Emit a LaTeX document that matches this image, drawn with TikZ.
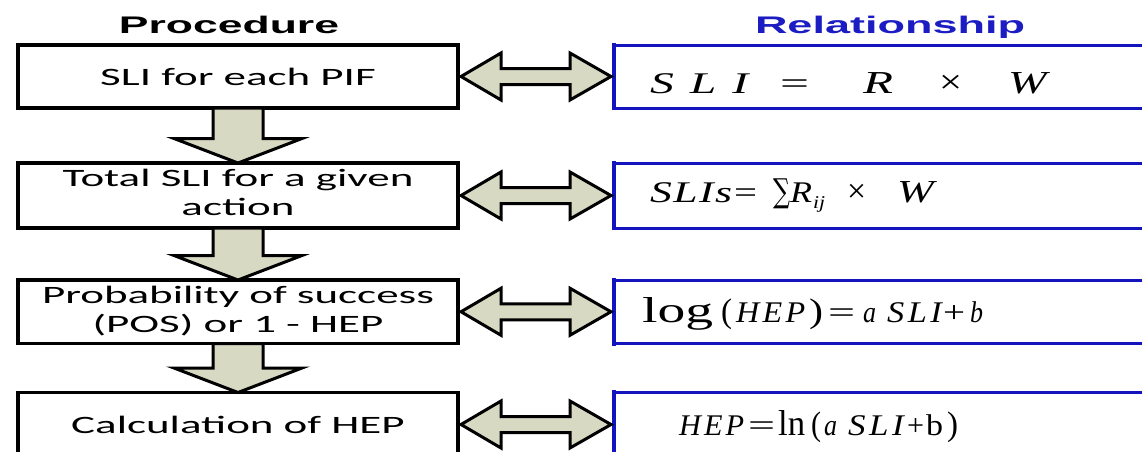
\documentclass[tikz,border=0pt]{standalone}
\usepackage{fontspec}
\usepackage{graphicx}
\setmainfont{Carlito}
\newfontfamily\hdfont{Liberation Sans}
\newfontfamily\mfont{Liberation Serif}
\newfontfamily\symfont{DejaVu Serif}
\usetikzlibrary{calc}
\definecolor{arrowfill}{RGB}{215,217,195}
\definecolor{relblue}{RGB}{20,20,190}
\definecolor{hdblue}{RGB}{28,28,195}
\newcommand\ftok[3]{\makebox[#1pt][l]{\resizebox{#2pt}{\height}{#3}}}
\newcommand\hsx[1]{\scalebox{1.8}[1]{#1}}
\begin{document}
\begin{tikzpicture}[x=1pt,y=-1pt,
  pbox/.style={draw=black, line width=3.5pt, fill=white, minimum width=440pt, inner sep=0pt, outer sep=0pt, font=\fontsize{25}{29}\selectfont},
  rbox/.style={draw=relblue, line width=3pt, fill=white, minimum width=556pt, inner sep=0pt, outer sep=0pt},
  bigarrow/.style={draw=black, line width=3pt, fill=arrowfill, line join=miter},
  hdtext/.style={font=\hdfont\bfseries\fontsize{24}{28}\selectfont, inner sep=0pt, anchor=base},
  formula/.style={font=\mfont\fontsize{30}{34}\selectfont, inner sep=0pt, anchor=base west},
  thickedge/.style={draw=relblue, line width=4.5pt, line cap=rect}
]
\useasboundingbox (0,0) rectangle (1142,451);
\clip (0,0) rectangle (1142,451);
\fill[white] (0,0) rectangle (1142,451);

% headers
\node[hdtext] (h1) at (229,33) {\resizebox{220pt}{\height}{Procedure}};
\node[hdtext, text=hdblue] (h2) at (890,33) {\resizebox{270pt}{\height}{Relationship}};

% procedure boxes
\node[pbox, minimum height=63pt] (p1) at (238,76.5) {\hsx{SLI for each PIF}};
\node[pbox, minimum height=65pt] (p2) at (238,195.5) {\hsx{\begin{tabular}{@{}c@{}}Total SLI for a given\\action\end{tabular}}};
\node[pbox, minimum height=63.5pt] (p3) at (238,311.75) {\hsx{\begin{tabular}{@{}c@{}}Probability of success\\(POS) or 1 - HEP\end{tabular}}};
\node[pbox, minimum height=64pt] (p4) at (238,424.5) {\hsx{Calculation of HEP}};

% relationship boxes
\node[rbox, minimum height=63pt] (r1) at (892,76.5) {};
\node[rbox, minimum height=65pt] (r2) at (892,195.5) {};
\node[rbox, minimum height=63.5pt] (r3) at (892,311.75) {};
\node[rbox, minimum height=64pt] (r4) at (892,424.5) {};
\foreach \i in {1,...,4} {
  \draw[thickedge] (r\i.north west) -- (r\i.south west);
}

% formulas
\node[formula] (f1) at (650,93) {\ftok{130}{100}{\textit{S\kern10pt L\kern10pt I}}\ftok{83}{29}{=}\ftok{76}{30}{\fontsize{32}{34}\selectfont\textit{R}}\ftok{69}{23}{\fontsize{34}{36}\selectfont ×}\ftok{0}{42}{\fontsize{32}{34}\selectfont\textit{W}}};
\node[formula] (f2) at (650,202) {\ftok{84}{82}{\textit{S\kern1pt L\kern1pt I\kern1pt s}}\ftok{39}{23}{=}\ftok{17}{17}{\fontsize{33}{36}\selectfont\symfont ∑}\ftok{23}{22}{\textit{R}}\ftok{34}{12}{\raisebox{-6pt}{\fontsize{18}{20}\selectfont\textit{ij}}}\ftok{50}{19}{\fontsize{34}{36}\selectfont ×}\ftok{0}{40}{\fontsize{32}{34}\selectfont\textit{W}}};
\node[formula] (f3) at (642,322) {\ftok{79}{71}{\fontsize{36}{38}\selectfont log}\ftok{15}{11}{\fontsize{34}{36}\selectfont (}\ftok{73}{69}{\textit{H\kern3pt E\kern3pt P}}\ftok{19}{14}{\fontsize{34}{36}\selectfont )}\ftok{35}{27}{=}\ftok{24}{13}{\textit{a}}\ftok{56}{56}{\textit{S\kern3pt L\kern3pt I}}\ftok{27}{22}{+}\ftok{0}{13}{\textit{b}}};
\node[formula] (f4) at (679,435) {\ftok{69}{65}{\textit{H\kern3pt E\kern3pt P}}\ftok{30}{27}{=}\ftok{33}{27}{\fontsize{36}{38}\selectfont ln}\ftok{13}{10}{\fontsize{34}{36}\selectfont (}\ftok{24}{13}{\textit{a}}\ftok{59}{57}{\textit{S\kern3pt L\kern3pt I}}\ftok{19}{17}{+}\ftok{21}{17}{b}\ftok{0}{11}{\fontsize{34}{36}\selectfont )}};

% down arrows
\foreach \a/\b in {1/2,2/3,3/4} {
  \draw[bigarrow] ($(p\a.south)+(-25,0)$) -- ($(p\a.south)+(25,0)$) -- ($(p\b.north)+(25,-24.5)$) -- ($(p\b.north)+(64,-24.5)$) -- (p\b.north) -- ($(p\b.north)+(-64,-24.5)$) -- ($(p\b.north)+(-25,-24.5)$) -- cycle;
}

% double arrows
\foreach \i in {1,...,4} {
  \coordinate (L\i) at ($(p\i.east)+(3,0)$);
  \coordinate (R\i) at ($(r\i.west)+(-3,0)$);
  \draw[bigarrow] (L\i) -- ($(L\i)+(40,-23.5)$) -- ($(L\i)+(40,-8)$) -- ($(R\i)+(-41,-8)$) -- ($(R\i)+(-41,-23.5)$) -- (R\i) -- ($(R\i)+(-41,23.5)$) -- ($(R\i)+(-41,8)$) -- ($(L\i)+(40,8)$) -- ($(L\i)+(40,23.5)$) -- cycle;
}
\end{tikzpicture}
\end{document}
